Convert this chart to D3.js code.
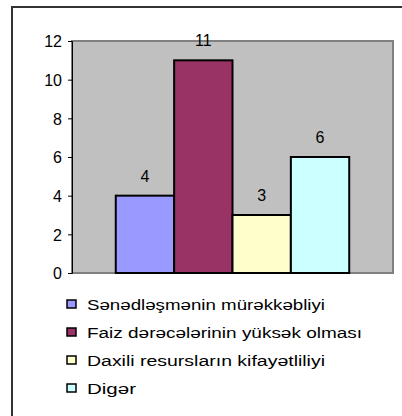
<!DOCTYPE html>
<html>
<head>
<meta charset="utf-8">
<script src="https://cdn.jsdelivr.net/npm/d3@7"></script>
<style>
  body { margin: 0; background: #fff; }
  svg { display: block; }
  text { font-family: "Liberation Sans", Arial, sans-serif; fill: #000; }
</style>
</head>
<body>
<div id="chart"></div>
<script>
// chart data
var categories = ["Sənədləşmənin mürəkkəbliyi", "Faiz dərəcələrinin yüksək olması", "Daxili resursların kifayətliliyi", "Digər"];
var values = [4, 11, 3, 6];
var colors = ["#9999FF", "#993366", "#FFFFCC", "#CCFFFF"];
var yTicks = [0, 2, 4, 6, 8, 10, 12];

var width = 402, height = 416;
var plot = { left: 72, top: 41, right: 393, bottom: 273 };

var svg = d3.select("#chart").append("svg")
    .attr("width", width)
    .attr("height", height);

// outer frame (right and bottom edges fall outside the picture)
svg.append("rect")
    .attr("x", 12).attr("y", 7)
    .attr("width", 420).attr("height", 430)
    .style("fill", "#fff")
    .style("stroke", "#333")
    .style("stroke-width", 2);

var y = d3.scaleLinear().domain([0, 12]).range([plot.bottom, plot.top]);

// excel style gap width 150% -> outer padding 0.75 of a bar
var x = d3.scaleBand()
    .domain(categories)
    .range([plot.left, plot.right])
    .paddingInner(0)
    .paddingOuter(0.75);

// plot area
svg.append("rect")
    .attr("x", plot.left).attr("y", plot.top)
    .attr("width", plot.right - plot.left)
    .attr("height", plot.bottom - plot.top)
    .style("fill", "#C0C0C0")
    .style("stroke", "#808080")
    .style("stroke-width", 2);

// bars
svg.selectAll(".bar")
    .data(values)
    .enter().append("rect")
    .attr("class", "bar")
    .attr("x", function(d, i) { return x(categories[i]); })
    .attr("y", function(d) { return y(d); })
    .attr("width", x.bandwidth())
    .attr("height", function(d) { return y(0) - y(d); })
    .style("fill", function(d, i) { return colors[i]; })
    .style("stroke", "#000")
    .style("stroke-width", 2);

// value labels
svg.selectAll(".val")
    .data(values)
    .enter().append("text")
    .attr("class", "val")
    .attr("x", function(d, i) { return x(categories[i]) + x.bandwidth() / 2; })
    .attr("y", function(d) { return y(d) - 14; })
    .attr("text-anchor", "middle")
    .style("font-size", "16px")
    .text(function(d) { return d; });

// y axis
var yAxis = svg.append("g")
    .attr("transform", "translate(" + plot.left + ",0)")
    .call(d3.axisLeft(y).tickValues(yTicks).tickSize(4).tickPadding(6).tickFormat(d3.format("d")));
yAxis.select(".domain").style("stroke", "#000");
yAxis.selectAll(".tick line").style("stroke", "#000");
yAxis.selectAll("text")
    .attr("dy", "0.36em")
    .style("font-family", "'Liberation Sans', Arial, sans-serif")
    .style("font-size", "16px")
    .style("fill", "#000");

// legend
var legendWidths = [238, 275, 238, 49];
var legend = svg.selectAll(".legend")
    .data(categories)
    .enter().append("g")
    .attr("class", "legend")
    .attr("transform", function(d, i) { return "translate(67," + (304 + i * 28) + ")"; });

legend.append("rect")
    .attr("x", 0).attr("y", -4)
    .attr("width", 9).attr("height", 8)
    .style("fill", function(d, i) { return colors[i]; })
    .style("stroke", "#000")
    .style("stroke-width", 1.5);

legend.append("text")
    .attr("x", 20)
    .attr("y", 6)
    .attr("textLength", function(d, i) { return legendWidths[i]; })
    .attr("lengthAdjust", "spacingAndGlyphs")
    .style("font-size", "15.5px")
    .text(function(d) { return d; });
</script>
</body>
</html>
